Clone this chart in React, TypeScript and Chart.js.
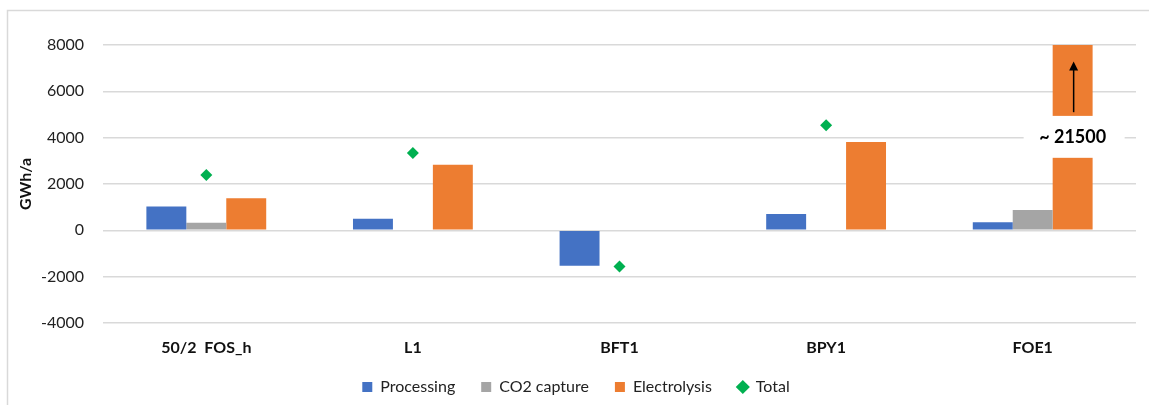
import React, { useEffect, useRef } from "react";
import { Chart, registerables } from "chart.js";

Chart.register(...registerables);

const categories = ["50/2  FOS_h", "L1", "BFT1", "BPY1", "FOE1"];
const processing = [1030, 500, -1530, 710, 350];
const co2Capture = [330, 0, 0, 0, 880];
const electrolysis = [1380, 2830, 0, 3810, 21500];
const total: (number | null)[] = [2390, 3340, -1560, 4540, null];

const yTicks = [-4000, -2000, 0, 2000, 4000, 6000, 8000];
const breakLabel = "~ 21500";
const breakLow = 3130;
const breakHigh = 4940;
const arrowFrom = 5100;
const arrowTo = 7290;

const FONT = "Lato, 'Liberation Sans', sans-serif";

const framePlugin = {
  id: "frame",
  beforeDraw(chart: any) {
    const ctx = chart.ctx;
    ctx.save();
    ctx.strokeStyle = "#d9d9d9";
    ctx.lineWidth = 1.5;
    ctx.strokeRect(7.5, 10.5, chart.width + 20, chart.height + 20);
    ctx.restore();
  },
};

const breakPlugin = {
  id: "breakMark",
  afterDatasetsDraw(chart: any) {
    const ctx = chart.ctx;
    const yS = chart.scales.y;
    const bar = chart.getDatasetMeta(2).data[4];
    if (!bar) return;
    const cx = bar.x;
    const top = yS.getPixelForValue(breakHigh);
    const bot = yS.getPixelForValue(breakLow);
    ctx.save();
    ctx.fillStyle = "#ffffff";
    ctx.fillRect(cx - 49, top, 101, bot - top);
    ctx.fillStyle = "#000";
    ctx.font = "bold 18px " + FONT;
    ctx.textAlign = "center";
    ctx.textBaseline = "middle";
    ctx.fillText(breakLabel, cx, (top + bot) / 2);
    const y1 = yS.getPixelForValue(arrowFrom);
    const y2 = yS.getPixelForValue(arrowTo);
    ctx.strokeStyle = "#000";
    ctx.lineWidth = 1.5;
    ctx.beginPath();
    ctx.moveTo(cx + 1, y1);
    ctx.lineTo(cx + 1, y2 + 8);
    ctx.stroke();
    ctx.beginPath();
    ctx.moveTo(cx + 1, y2);
    ctx.lineTo(cx - 3.5, y2 + 9);
    ctx.lineTo(cx + 5.5, y2 + 9);
    ctx.closePath();
    ctx.fill();
    ctx.restore();
  },
};

export default function App() {
  const ref = useRef<HTMLCanvasElement | null>(null);

  useEffect(() => {
    if (!ref.current) return;
    const chart = new Chart(ref.current, {
      data: {
        labels: categories,
        datasets: [
          {
            type: "bar",
            label: "Processing",
            data: processing,
            backgroundColor: "#4472C4",
            pointStyle: "rect",
          },
          {
            type: "bar",
            label: "CO2 capture",
            data: co2Capture,
            backgroundColor: "#A5A5A5",
            pointStyle: "rect",
          },
          {
            type: "bar",
            label: "Electrolysis",
            data: electrolysis,
            backgroundColor: "#ED7D31",
            pointStyle: "rect",
          },
          {
            type: "line",
            label: "Total",
            data: total,
            showLine: false,
            backgroundColor: "#00B050",
            borderColor: "#00B050",
            pointStyle: "rectRot",
            pointRadius: 6,
            pointBorderWidth: 0,
          },
        ],
      } as any,
      options: {
        animation: false,
        responsive: true,
        maintainAspectRatio: false,
        layout: { padding: { left: 16, top: 45, right: 13, bottom: 0 } },
        datasets: {
          bar: { categoryPercentage: 0.58, barPercentage: 1 },
        } as any,
        plugins: {
          legend: {
            position: "bottom",
            labels: {
              usePointStyle: true,
              boxHeight: 10,
              boxWidth: 10,
              padding: 26,
              color: "#222",
              font: { family: FONT, size: 16 },
            },
          },
          tooltip: { enabled: false },
        },
        scales: {
          x: {
            grid: { display: false, drawTicks: false },
            border: { display: false },
            ticks: {
              color: "#111",
              padding: 15,
              font: { family: FONT, size: 16, weight: "bold" },
            },
            afterFit(scale: any) {
              scale.height = 30;
              scale._computeLabelArea = () => undefined;
            },
          },
          y: {
            min: -4000,
            max: 8000,
            afterBuildTicks(scale: any) {
              scale.ticks = yTicks.map((v) => ({ value: v }));
            },
            grid: { color: "#d9d9d9", lineWidth: 1.5, drawTicks: false },
            border: { display: false },
            ticks: {
              color: "#222",
              padding: 19,
              font: { family: FONT, size: 16 },
              callback: (v: any) => String(v),
            },
            title: {
              display: true,
              text: "GWh/a",
              color: "#111",
              padding: { top: 0, bottom: 0 },
              font: { family: FONT, size: 16, weight: "bold" },
            },
            afterFit(scale: any) {
              scale.width = 87;
            },
          },
        },
      } as any,
      plugins: [framePlugin, breakPlugin],
    });
    return () => chart.destroy();
  }, []);

  return (
    <div style={{ position: "absolute", left: 0, top: 0, width: 1149, height: 405 }}>
      <canvas ref={ref} />
    </div>
  );
}
